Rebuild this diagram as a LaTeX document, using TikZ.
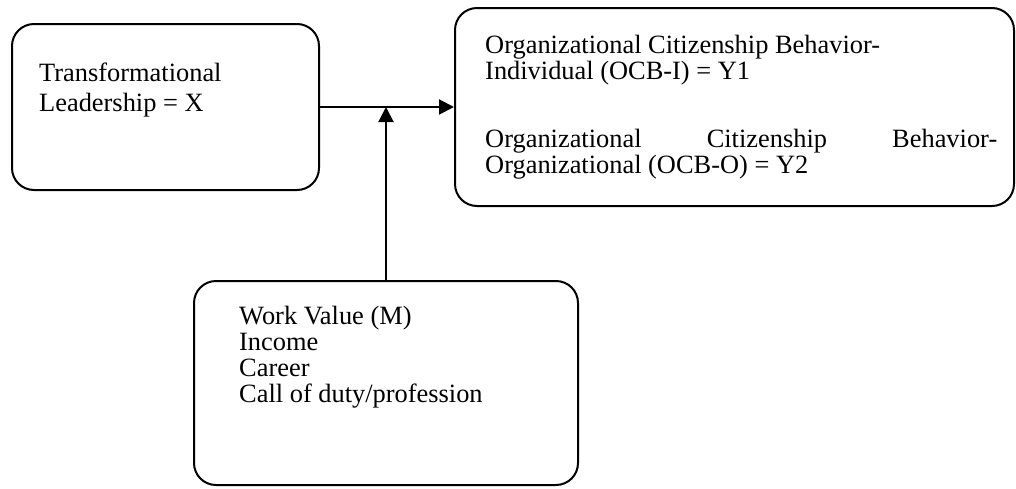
\documentclass[tikz,border=0pt]{standalone}
\usepackage{fontspec}
\setmainfont{Liberation Serif}
\usetikzlibrary{arrows.meta}

\tikzset{
  roundbox/.style={draw, line width=2pt, rounded corners=22pt, inner sep=0pt},
  label/.style={anchor=base west, inner sep=0pt, font=\fontsize{26.4}{30}\selectfont},
  link/.style={line width=2pt, -{Triangle[length=15pt,width=15pt]}}
}

\begin{document}
\begin{tikzpicture}[x=1pt, y=-1pt]
  \useasboundingbox (0,0) rectangle (1016,488);

  % boxes
  \node[roundbox, minimum width=307pt, minimum height=166pt] (lead) at (165.5,107) {};
  \node[roundbox, minimum width=559pt, minimum height=198pt] (ocb) at (734.5,107) {};
  \node[roundbox, minimum width=384pt, minimum height=204pt] (work) at (386,383) {};

  % texts
  \node[label] (t1) at (39,81) {Transformational};
  \node[label] (t2) at (39,111) {Leadership = X};

  \node[label] (o1) at (485,53) {Organizational Citizenship Behavior-};
  \node[label] (o2) at (485,79) {Individual (OCB-I) = Y1};
  \node[label] (o3) at (485,147) {\makebox[512pt][l]{Organizational\hfill Citizenship\hfill Behavior-}};
  \node[label] (o4) at (485,173) {Organizational (OCB-O) = Y2};

  \node[label] (w1) at (239,324) {Work Value (M)};
  \node[label] (w2) at (239,350) {Income};
  \node[label] (w3) at (239,376) {Career};
  \node[label] (w4) at (239,402) {Call of duty/profession};

  % connectors
  \coordinate (join) at (work.north |- lead.east);
  \draw[link] (lead.east) -- (ocb.west);
  \draw[link] (work.north) -- (join);
\end{tikzpicture}
\end{document}
